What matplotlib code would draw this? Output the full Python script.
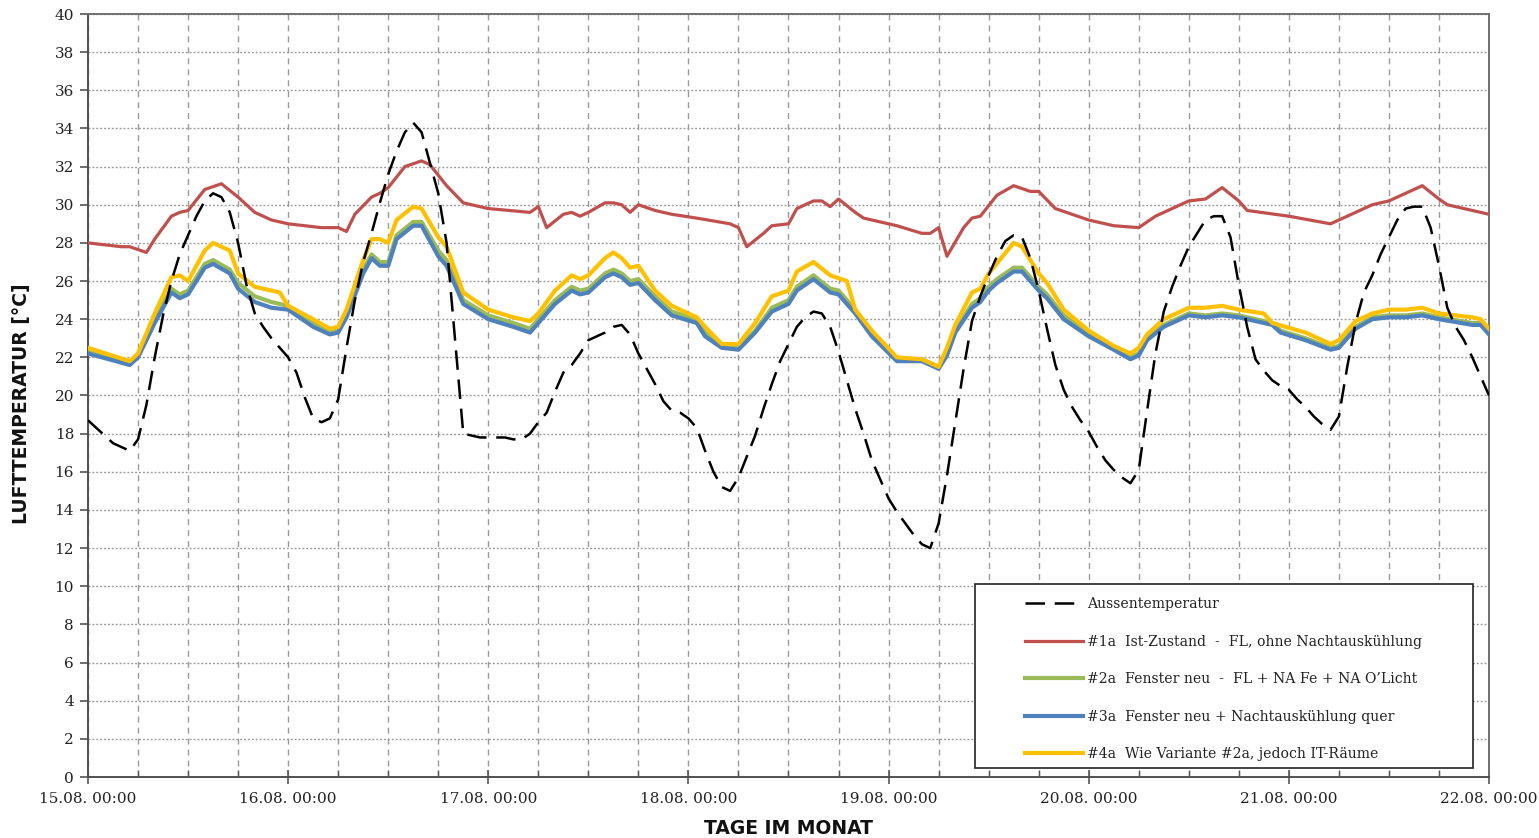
import matplotlib
matplotlib.use("Agg")
import matplotlib.pyplot as plt
from matplotlib.patches import Rectangle

# ---------------- data (hours since 15.08. 00:00) ----------------
aussen_h = list(range(0, 169))
aussen = [18.7, 18.3, 17.9, 17.5, 17.3, 17.1, 17.7, 19.5, 22.0, 24.2,
          26.0, 27.4, 28.4, 29.4, 30.2, 30.6, 30.4, 29.6, 28.0, 25.8,
          24.3, 23.6, 23.0, 22.5, 22.0, 21.2, 19.9, 18.8, 18.6, 18.8,
          19.8, 22.5, 25.0, 27.0, 28.5, 30.1, 31.6, 32.8, 33.8, 34.3,
          33.8, 32.2, 30.6, 28.0, 23.0, 18.0, 17.9, 17.8, 17.8, 17.8,
          17.8, 17.7, 17.7, 18.0, 18.6, 19.1, 20.2, 21.2, 21.6, 22.2,
          22.9, 23.1, 23.3, 23.6, 23.7, 23.2, 22.2, 21.4, 20.6, 19.7,
          19.2, 19.1, 18.8, 18.3, 17.1, 16.0, 15.2, 15.0, 15.7, 16.8,
          17.9, 19.3, 20.6, 21.8, 22.7, 23.6, 24.1, 24.4, 24.3, 23.6,
          22.3, 20.8, 19.3, 18.0, 16.6, 15.6, 14.6, 13.9, 13.3, 12.7,
          12.2, 12.0, 13.3, 15.8, 18.6, 21.4, 23.9, 25.2, 26.3, 27.3,
          28.1, 28.4, 28.3, 27.2, 25.5, 23.5, 21.6, 20.3, 19.4, 18.7,
          18.1, 17.3, 16.6, 16.1, 15.7, 15.4, 16.1, 19.2, 22.2, 24.4,
          25.7, 26.8, 27.8, 28.5, 29.2, 29.4, 29.4, 28.3, 25.8, 23.6,
          21.9, 21.3, 20.8, 20.5, 20.3, 19.8, 19.4, 18.9, 18.5, 18.2,
          18.9, 21.5, 23.8, 25.4, 26.3, 27.4, 28.3, 29.2, 29.8, 29.9,
          29.9, 28.8, 26.8, 24.6, 23.6, 22.9, 22.0, 21.0, 20.0]

v1_h = [0, 4, 5, 7, 8, 10, 11, 12, 14, 16, 18, 20, 22, 24, 28, 30, 31, 32, 34, 35,
        36, 38, 40, 41, 43, 45, 48, 53, 54, 55, 57, 58, 59, 60, 62, 63, 64, 65, 66, 68,
        70, 73, 77, 78, 79, 81, 82, 84, 85, 87, 88, 89, 90, 92, 93, 97, 100, 101, 102, 103,
        105, 106, 107, 109, 111, 113, 114, 116, 120, 123, 126, 128, 131, 132, 134, 136, 138, 139, 144, 149,
        150, 152, 154, 156, 157, 160, 162, 163, 168]
v1 = [28.0, 27.8, 27.8, 27.5, 28.2, 29.4, 29.6, 29.7, 30.8, 31.1, 30.4, 29.6, 29.2, 29.0, 28.8, 28.8, 28.6, 29.5, 30.4, 30.6,
      30.9, 32.0, 32.3, 32.1, 31.0, 30.1, 29.8, 29.6, 29.9, 28.8, 29.5, 29.6, 29.4, 29.6, 30.1, 30.1, 30.0, 29.6, 30.0, 29.7,
      29.5, 29.3, 29.0, 28.8, 27.8, 28.5, 28.9, 29.0, 29.8, 30.2, 30.2, 29.9, 30.3, 29.6, 29.3, 28.9, 28.5, 28.5, 28.8, 27.3,
      28.8, 29.3, 29.4, 30.5, 31.0, 30.7, 30.7, 29.8, 29.2, 28.9, 28.8, 29.4, 30.0, 30.2, 30.3, 30.9, 30.2, 29.7, 29.4, 29.0,
      29.2, 29.6, 30.0, 30.2, 30.4, 31.0, 30.3, 30.0, 29.5]

v3_h = [0, 5, 6, 8, 10, 11, 12, 14, 15, 17, 18, 20, 22, 24, 27, 29, 30, 31, 33, 34,
        35, 36, 37, 39, 40, 42, 43, 45, 48, 51, 53, 54, 56, 58, 59, 60, 62, 63, 64, 65,
        66, 68, 70, 73, 74, 76, 78, 80, 82, 84, 85, 87, 89, 90, 92, 94, 97, 100, 102, 103,
        104, 106, 107, 108, 109, 111, 112, 114, 115, 117, 120, 123, 125, 126, 127, 129, 132, 134, 136, 138,
        142, 143, 146, 149, 150, 152, 154, 156, 158, 160, 162, 166, 167, 168]
v3 = [22.2, 21.6, 22.0, 23.8, 25.4, 25.1, 25.3, 26.7, 26.9, 26.4, 25.6, 24.9, 24.6, 24.5, 23.6, 23.2, 23.3, 24.1, 26.4, 27.2,
      26.8, 26.8, 28.2, 28.9, 28.9, 27.3, 26.8, 24.8, 24.0, 23.6, 23.3, 23.8, 24.8, 25.5, 25.3, 25.4, 26.2, 26.4, 26.2, 25.8,
      25.9, 25.0, 24.2, 23.8, 23.1, 22.5, 22.4, 23.3, 24.4, 24.8, 25.5, 26.1, 25.4, 25.3, 24.3, 23.1, 21.8, 21.8, 21.4, 22.1,
      23.3, 24.6, 24.9, 25.5, 25.9, 26.5, 26.5, 25.5, 25.1, 24.0, 23.1, 22.4, 21.9, 22.1, 22.9, 23.6, 24.2, 24.1, 24.2, 24.1,
      23.7, 23.3, 22.9, 22.4, 22.5, 23.5, 24.0, 24.1, 24.1, 24.2, 24.0, 23.7, 23.7, 23.2]

v2_h = v3_h
v2 = [22.3, 21.7, 22.1, 24.0, 25.6, 25.3, 25.5, 26.9, 27.1, 26.6, 25.9, 25.2, 24.9, 24.7, 23.8, 23.4, 23.5, 24.3, 26.6, 27.4,
      27.0, 27.0, 28.4, 29.1, 29.1, 27.6, 27.1, 25.0, 24.2, 23.8, 23.5, 24.0, 25.0, 25.7, 25.5, 25.6, 26.4, 26.6, 26.4, 26.0,
      26.1, 25.2, 24.4, 24.0, 23.3, 22.6, 22.5, 23.4, 24.6, 25.0, 25.7, 26.3, 25.6, 25.5, 24.5, 23.3, 21.9, 21.9, 21.5, 22.2,
      23.4, 24.8, 25.1, 25.7, 26.1, 26.7, 26.7, 25.7, 25.3, 24.2, 23.3, 22.5, 22.0, 22.2, 23.0, 23.7, 24.3, 24.2, 24.3, 24.2,
      23.8, 23.4, 23.0, 22.5, 22.6, 23.6, 24.1, 24.2, 24.2, 24.3, 24.1, 23.8, 23.8, 23.3]

v4_h = [0, 5, 6, 8, 10, 11, 12, 14, 15, 17, 18, 20, 22, 23, 24, 27, 29, 30, 31, 33,
        34, 35, 36, 37, 39, 40, 42, 43, 45, 48, 51, 53, 54, 56, 58, 59, 60, 62, 63, 64,
        65, 66, 68, 70, 73, 74, 76, 78, 80, 82, 84, 85, 87, 89, 91, 92, 94, 97, 100, 102,
        103, 104, 106, 107, 108, 111, 112, 114, 115, 117, 120, 123, 125, 126, 127, 129, 132, 134, 136, 138,
        141, 142, 146, 149, 150, 152, 154, 156, 158, 160, 162, 166, 167, 168]
v4 = [22.5, 21.8, 22.2, 24.3, 26.2, 26.3, 26.0, 27.6, 28.0, 27.6, 26.4, 25.7, 25.5, 25.4, 24.7, 24.0, 23.5, 23.6, 24.5, 27.1,
      28.2, 28.2, 28.0, 29.2, 29.9, 29.8, 28.3, 27.8, 25.4, 24.5, 24.1, 23.9, 24.3, 25.5, 26.3, 26.1, 26.3, 27.2, 27.5, 27.2,
      26.7, 26.8, 25.5, 24.7, 24.1, 23.6, 22.7, 22.7, 23.8, 25.2, 25.5, 26.5, 27.0, 26.3, 26.0, 24.5, 23.4, 22.0, 21.9, 21.5,
      22.5, 23.7, 25.4, 25.6, 26.4, 28.0, 27.8, 26.4, 25.9, 24.5, 23.4, 22.6, 22.2, 22.5, 23.2, 24.0, 24.6, 24.6, 24.7, 24.5,
      24.3, 23.8, 23.3, 22.7, 22.9, 23.9, 24.3, 24.5, 24.5, 24.6, 24.3, 24.1, 24.0, 23.5]

day_ticks = [0, 24, 48, 72, 96, 120, 144, 168]
day_labels = ["15.08. 00:00", "16.08. 00:00", "17.08. 00:00", "18.08. 00:00",
              "19.08. 00:00", "20.08. 00:00", "21.08. 00:00", "22.08. 00:00"]
labels = ["Aussentemperatur",
          "#1a  Ist-Zustand  -  FL, ohne Nachtauskühlung",
          "#2a  Fenster neu  -  FL + NA Fe + NA O\u2019Licht",
          "#3a  Fenster neu + Nachtauskühlung quer",
          "#4a  Wie Variante #2a, jedoch IT-Räume"]

# ---------------- figure ----------------
W, H = 1539, 838
fig = plt.figure(figsize=(W / 100, H / 100), dpi=100)
ax = fig.add_axes([88 / W, 1 - 777 / H, 1401 / W, 763 / H])

c_red, c_green, c_blue, c_yel = "#C0504D", "#9BBB59", "#4F81BD", "#FFC000"

l1, = ax.plot(v1_h, v1, color=c_red, lw=2.3, zorder=3)
l2, = ax.plot(v2_h, v2, color=c_green, lw=3.0, zorder=4)
l3, = ax.plot(v3_h, v3, color=c_blue, lw=3.0, zorder=5)
l4, = ax.plot(v4_h, v4, color=c_yel, lw=3.0, zorder=6)
l0, = ax.plot(aussen_h, aussen, color="black", lw=1.8, dashes=(7.8, 3.9), zorder=7)

ax.set_xlim(0, 168)
ax.set_ylim(0, 40)
ax.set_yticks(range(0, 41, 2))
ax.set_xticks(day_ticks)
ax.set_xticklabels(day_labels)
ax.set_xticks(range(0, 169, 6), minor=True)

for lab in ax.get_xticklabels() + ax.get_yticklabels():
    lab.set_fontfamily("DejaVu Serif")
    lab.set_fontsize(11)
    lab.set_color("#222222")

ax.tick_params(axis="y", which="major", direction="out", length=6, width=1.2,
               color="#555555", pad=4)
ax.tick_params(axis="x", which="major", direction="inout", length=10, width=1.2,
               color="#555555", pad=6)
ax.tick_params(axis="x", which="minor", direction="in", length=5, width=1.0,
               color="#555555")

ax.grid(axis="x", which="both", color="#9a9a9a", lw=1.0, linestyle=(0, (4.3, 3.6)), zorder=1)
ax.grid(axis="y", which="major", color="#9a9a9a", lw=1.0, linestyle=(0, (1.4, 1.4)), zorder=1)
ax.set_axisbelow(True)

for s in ax.spines.values():
    s.set_color("#707070")
    s.set_linewidth(1.4)
ax.spines["left"].set_color("#505050")
ax.spines["bottom"].set_color("#505050")

ax.set_ylabel("LUFTTEMPERATUR [°C]", fontsize=13.5, fontweight="bold",
              family="DejaVu Sans", color="#111111")
ax.yaxis.set_label_coords(-(88 - 31) / 1401, 0.5 + (777 - 404 - 381.5) / 763)
ax.set_xlabel("TAGE IM MONAT", fontsize=13.5, fontweight="bold",
              family="DejaVu Sans", color="#111111")
ax.xaxis.set_label_coords(0.5 + (788 - 788.5) / 1401, -(819 - 777) / 763)

# legend box
box = Rectangle((975 / W, 1 - 768 / H), (1473 - 975) / W, (768 - 584) / H,
                transform=fig.transFigure, facecolor="white", edgecolor="#222222",
                lw=1.2, zorder=10)
fig.patches.append(box)
leg = fig.legend([l0, l1, l2, l3, l4], labels, loc="upper left",
                 bbox_to_anchor=(1025 / W, 1 - 597 / H), frameon=False,
                 prop=dict(family="DejaVu Serif", size=10.1), handlelength=4.1,
                 handletextpad=0.35, labelspacing=1.68, borderpad=0, borderaxespad=0)
leg.set_zorder(11)
for t in leg.get_texts():
    t.set_color("#222222")

fig.savefig("out.png", dpi=100)
